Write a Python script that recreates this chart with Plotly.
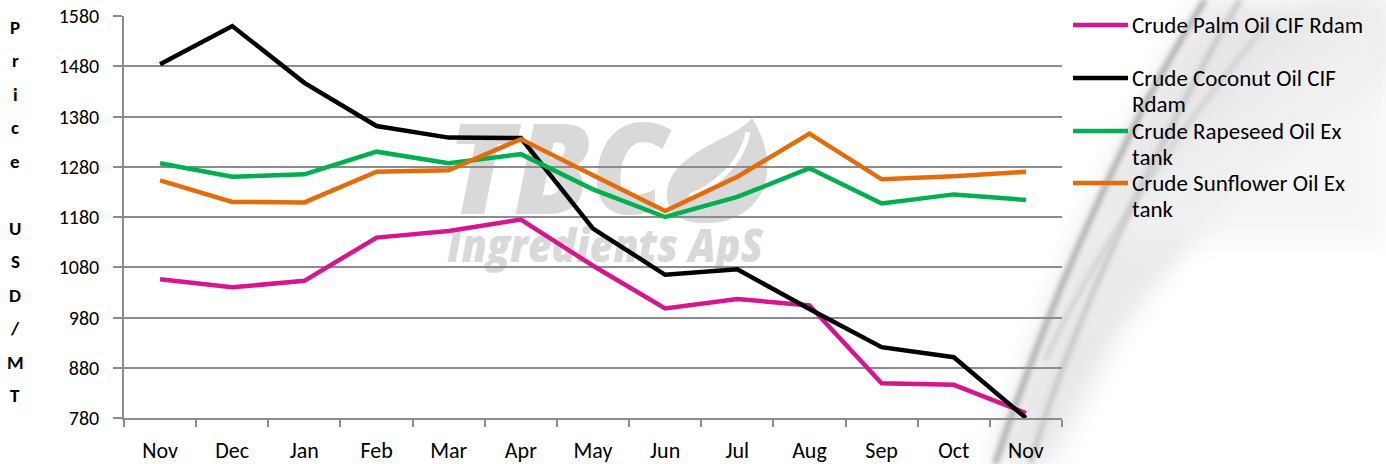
import base64
import plotly.graph_objects as go

months = ["Nov", "Dec", "Jan", "Feb", "Mar", "Apr", "May", "Jun", "Jul", "Aug", "Sep", "Oct", "Nov"]
palm = [1056, 1040, 1053, 1139, 1152, 1175, 1083, 998, 1017, 1004, 849, 846, 790]
coconut = [1484, 1560, 1447, 1361, 1338, 1337, 1157, 1065, 1076, 997, 921, 901, 780]
rapeseed = [1287, 1260, 1265, 1310, 1287, 1305, 1235, 1180, 1220, 1277, 1207, 1225, 1214]
sunflower = [1253, 1210, 1209, 1270, 1273, 1335, 1263, 1192, 1260, 1346, 1255, 1261, 1270]

series_names = ["Crude Palm Oil CIF Rdam", "Crude Coconut Oil CIF<br>Rdam",
                "Crude Rapeseed Oil Ex<br>tank", "Crude Sunflower Oil Ex<br>tank"]
series_values = [palm, coconut, rapeseed, sunflower]
colors = ["#D6168F", "#000000", "#00B050", "#E46C0A"]
ytick_vals = [780, 880, 980, 1080, 1180, 1280, 1380, 1480, 1580]

W, H = 1386, 464
L, R, T, B = 124, 324, 16, 46
PW, PH = W - L - R, H - T - B
FONT = "Carlito, Lato, sans-serif"
GRID = "#8c8c8c"


def px(x):
    return (x - L) / PW


def py(y):
    return (H - B - y) / PH


x_idx = list(range(len(months)))

fig = go.Figure()
for name, vals, col in zip(series_names, series_values, colors):
    fig.add_trace(go.Scatter(x=x_idx, y=vals, mode="lines", name=name.replace("<br>", " "),
                             line=dict(color=col, width=4.5), showlegend=False))

# background watermark + feather as svg image (below plot)
svg = f"""<svg xmlns='http://www.w3.org/2000/svg' width='{W}' height='{H}' viewBox='0 0 {W} {H}'>
<defs>
<filter id='b' x='-50%' y='-50%' width='200%' height='200%'><feGaussianBlur stdDeviation='12'/></filter>
<filter id='b2' x='-50%' y='-50%' width='200%' height='200%'><feGaussianBlur stdDeviation='2.5'/></filter>
</defs>
<path d='M990 464 Q1060 260 1150 90 Q1180 30 1210 0 L1386 0 L1386 60 Q1230 170 1120 330 L1050 464 Z' fill='#e2e2e2' opacity='0.8' filter='url(#b)'/>
<path d='M1060 330 Q1150 150 1330 0 L1386 0 L1386 90 Q1230 180 1100 330 Z' fill='#ececec' opacity='0.85' filter='url(#b)'/>
<path d='M1080 240 L1386 0 L1386 240 Z' fill='#f2f2f2' opacity='0.7' filter='url(#b)'/>
<path d='M995 464 Q1060 270 1150 95 Q1180 40 1205 0' stroke='#b0b0b0' stroke-width='6' fill='none' filter='url(#b2)'/>
<path d='M1030 464 Q1080 300 1180 110 Q1210 50 1240 0' stroke='#c4c4c4' stroke-width='5' fill='none' filter='url(#b2)'/>
<path d='M1045 360 Q1120 200 1270 20' stroke='#cccccc' stroke-width='4' fill='none' filter='url(#b2)'/>
<text x='447' y='214' font-family='Open Sans, sans-serif' font-weight='800' font-style='italic' font-size='125' fill='#d9d9d9' textLength='220' lengthAdjust='spacingAndGlyphs'>TBC</text>
<text x='447' y='262' font-family='Open Sans, sans-serif' font-weight='800' font-style='italic' font-size='46' fill='#d9d9d9' textLength='316' lengthAdjust='spacingAndGlyphs'>Ingredients ApS</text>
<path d='M752 118 C 735 140, 672 150, 667 192 C 664 222, 700 228, 728 220 C 772 205, 778 160, 752 118 Z' fill='#d9d9d9'/>
<path d='M748 132 C 742 165, 712 188, 690 196' stroke='#ffffff' stroke-width='5' fill='none'/>
</svg>"""
src = "data:image/svg+xml;base64," + base64.b64encode(svg.encode()).decode()
fig.add_layout_image(dict(source=src, xref="paper", yref="paper", x=px(0), y=py(0),
                          sizex=W / PW, sizey=H / PH, xanchor="left", yanchor="top",
                          sizing="stretch", layer="below"))

# manual legend
leg_y = [25, 78, 131, 183]
for name, col, ly in zip(series_names, colors, leg_y):
    fig.add_shape(type="line", xref="paper", yref="paper", x0=px(1073), x1=px(1128),
                  y0=py(ly), y1=py(ly), line=dict(color=col, width=4.5))
    for k, part in enumerate(name.split("<br>")):
        fig.add_annotation(text=part, xref="paper", yref="paper", x=px(1130), y=py(ly + k * 26),
                           xanchor="left", yanchor="middle", showarrow=False, align="left",
                           font=dict(family=FONT, size=23, color="#000000"))

# stacked axis title
title = "Price USD/MT"
for i, ch in enumerate(title):
    if ch == " ":
        continue
    fig.add_annotation(text=f"<b>{ch}</b>", xref="paper", yref="paper", x=px(15), y=py(27 + i * 33.5),
                       xanchor="center", yanchor="middle", showarrow=False,
                       font=dict(family=FONT, size=19, color="#000000"))

fig.update_layout(
    width=W, height=H,
    margin=dict(l=L, r=R, t=T, b=B, pad=0, autoexpand=False),
    paper_bgcolor="#ffffff", plot_bgcolor="rgba(0,0,0,0)",
    font=dict(family=FONT, size=18, color="#000000"),
    showlegend=False,
)
fig.update_xaxes(range=[-0.5, 12.5], tickvals=x_idx, ticktext=months, ticks="", showgrid=False,
                 showline=True, linecolor=GRID, linewidth=1.5, zeroline=False, automargin=False,
                 minor=dict(tick0=-0.5, dtick=1, ticks="outside", ticklen=7, tickcolor=GRID, tickwidth=1.5,
                            showgrid=False),
                 ticklabelstandoff=12,
                 tickfont=dict(family=FONT, size=22))
fig.update_yaxes(range=[780, 1580], tickvals=ytick_vals, ticks="outside", ticklen=9, tickcolor=GRID,
                 tickwidth=1.5, showgrid=True, gridcolor=GRID, gridwidth=1.5, showline=True,
                 linecolor=GRID, linewidth=1.5, zeroline=False, automargin=False,
                 ticklabelstandoff=10, tickfont=dict(family=FONT, size=20))

fig.write_html("out.html", config={"displayModeBar": False},
               post_script="document.body.style.margin='0';")
